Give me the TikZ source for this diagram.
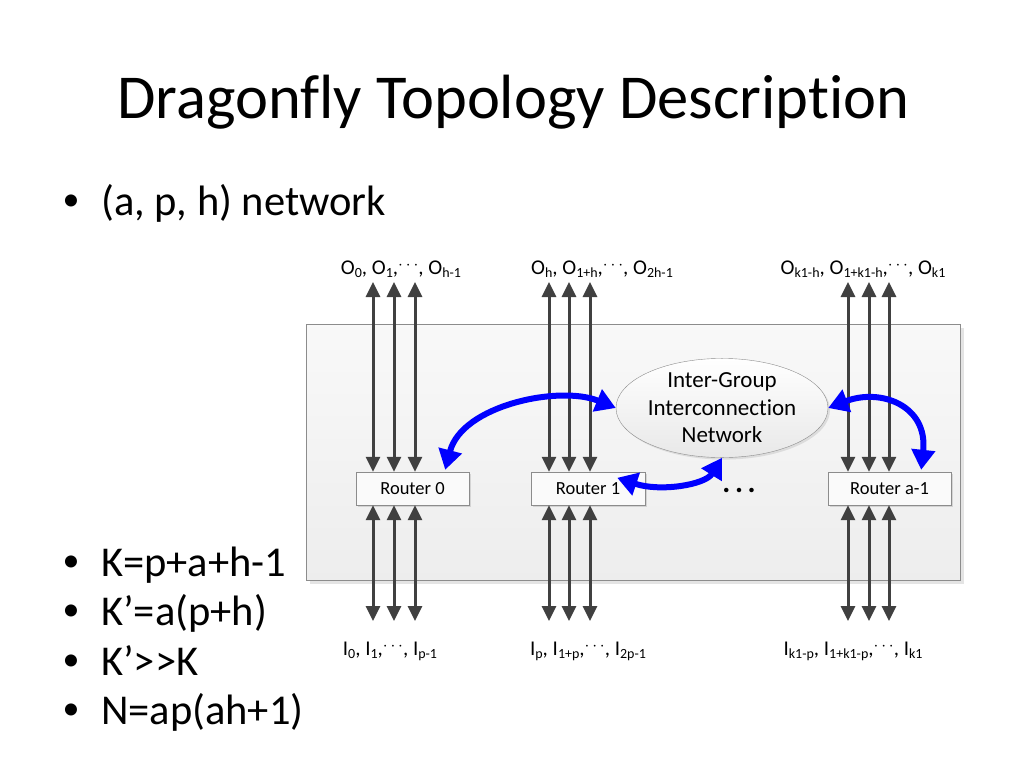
\documentclass[tikz,border=0pt]{standalone}
\usepackage{fontspec}
\setmainfont{Carlito}[Ligatures={NoCommon}]
\usetikzlibrary{arrows.meta,shapes.geometric,shadows,calc}
\definecolor{linkgray}{RGB}{64,64,64}
\definecolor{boxline}{RGB}{140,140,140}
\definecolor{arrowblue}{RGB}{0,0,255}
\newcommand\sbx[1]{\raisebox{-0.35ex}{\fontsize{14}{14}\selectfont #1}}
\newcommand\dotsm{{\fontsize{16}{16}\selectfont\raisebox{0.55ex}{$\cdots$}}}
\newcommand\bul{{\fontsize{34}{34}\selectfont\raisebox{4.8pt}{•}}\hspace{21.5pt}}
\begin{document}
\begin{tikzpicture}[x=1pt,y=-1pt,
  link/.style={draw=linkgray, line width=3pt,
    {Triangle[length=15pt,width=14pt]}-{Triangle[length=15pt,width=14pt]}},
  barrow/.style={draw=arrowblue, line width=6pt,
    {Triangle[length=20pt,width=23pt]}-{Triangle[length=20pt,width=23pt]}},
  router/.style={draw=boxline, fill=gray!4, minimum height=33pt, inner sep=0pt,
    font=\fontsize{18.5}{20}\selectfont, drop shadow={opacity=0.25, shadow xshift=2pt, shadow yshift=-2pt}},
  lbl/.style={inner sep=0pt, anchor=base, font=\fontsize{21}{22}\selectfont},
  bullet/.style={inner sep=0pt, anchor=base west, font=\fontsize{42.5}{50}\selectfont}
]
\useasboundingbox (0,0) rectangle (1024,768);
\fill[white] (0,0) rectangle (1024,768);

% title
\node[inner sep=0pt, anchor=base west, font=\fontsize{62.5}{74}\selectfont] (title) at (117,118) {Dragonfly Topology Description};

% bullets
\node[bullet] (b1) at (62.5,215) {\bul(a, p, h) network};
\node[bullet] (b2) at (62.5,576) {\bul K=p+a+h-1};
\node[bullet] (b3) at (62.5,625.5) {\bul K’=a(p+h)};
\node[bullet] (b4) at (62.5,675) {\bul K’{>}{>}K};
\node[bullet] (b5) at (62.5,724.5) {\bul N=ap(ah+1)};

% group box
\fill[gray!35, opacity=0.6] (310,328) rectangle (964,584);
\draw[draw=boxline, top color=gray!5, bottom color=gray!14] (306,324) rectangle (960,580);

% routers
\node[router, minimum width=113pt] (r0) at (412.5,488.5) {Router 0};
\node[router, minimum width=114pt] (r1) at (588,488.5) {Router 1};
\node[router, minimum width=123pt] (ra) at (889.5,488.5) {Router a-1};

% inter-group network
\node[ellipse, draw=boxline, top color=white, bottom color=gray!18, minimum width=212pt, minimum height=90pt, inner sep=0pt,
  align=center, font=\fontsize{23}{27.5}\selectfont, drop shadow={opacity=0.2, shadow xshift=2pt, shadow yshift=-2pt}] (ign) at (722,408)
  {Inter-Group\\Interconnection\\Network};

\node[inner sep=0pt, anchor=base, font=\fontsize{30}{30}\bfseries\selectfont] (dots) at (739,492) {.\hspace{4.5pt}.\hspace{4.5pt}.};

% labels
\node[lbl] (o0) at (401,274) {O\sbx{0}, O\sbx{1},\dotsm, O\sbx{h-1}};
\node[lbl] (o1) at (602,274) {O\sbx{h}, O\sbx{1+h},\dotsm, O\sbx{2h-1}};
\node[lbl] (oa) at (863,274) {O\sbx{k1-h}, O\sbx{1+k1-h},\dotsm, O\sbx{k1}};
\node[lbl] (i0) at (390,655) {I\sbx{0}, I\sbx{1},\dotsm, I\sbx{p-1}};
\node[lbl] (i1) at (588,655) {I\sbx{p}, I\sbx{1+p},\dotsm, I\sbx{2p-1}};
\node[lbl] (ia) at (853,655) {I\sbx{k1-p}, I\sbx{1+k1-p},\dotsm, I\sbx{k1}};

% links
\foreach \x in {373,394,415} {
  \draw[link] (\x,282) -- (\x,0 |- r0.north);
  \draw[link] (\x,0 |- r0.south) -- (\x,621);
}
\foreach \x in {549,569,590} {
  \draw[link] (\x,282) -- (\x,0 |- r1.north);
  \draw[link] (\x,0 |- r1.south) -- (\x,621);
}
\foreach \x in {848,869,889} {
  \draw[link] (\x,282) -- (\x,0 |- ra.north);
  \draw[link] (\x,0 |- ra.south) -- (\x,621);
}

% blue arrows
\draw[barrow] ($(r0.north east)+(-24,-2)$) .. controls (462,405) and (560,385) .. (ign.west);
\draw[barrow] ($(r1.north east)+(-28,6)$) .. controls (660,492) and (705,485) .. (ign.south);
\draw[barrow] (ign.east) .. controls (880,388) and (928,405) .. ($(ra.north east)+(-30,-2)$);
\end{tikzpicture}
\end{document}
